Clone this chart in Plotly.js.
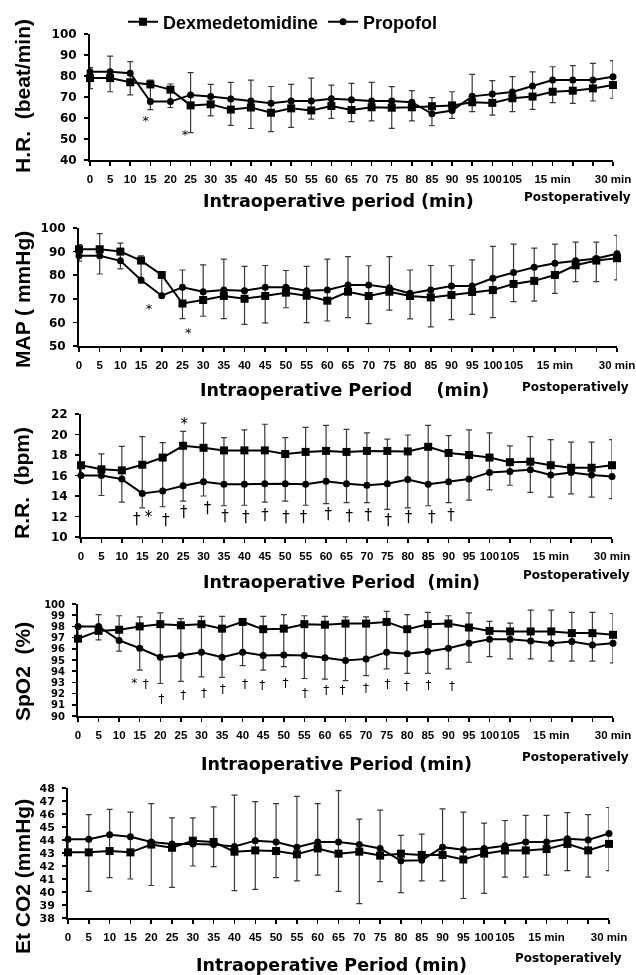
<!DOCTYPE html>
<html><head><meta charset="utf-8">
<script src="https://cdn.plot.ly/plotly-3.0.1.min.js"></script>
<style>html,body{margin:0;padding:0;background:#fff} #chart{filter:grayscale(1)}</style>
</head><body>
<div id="chart" style="width:636px;height:975px"></div>
<script>
// ---------- data ----------
const timeLabels = ["0","5","10","15","20","25","30","35","40","45","50","55","60","65","70","75","80","85","90","95","100","105","","15 min","","","30 min"];

const hrDex  = [79,79,77,76,73.5,66,66.5,64,65,62.5,64.6,63.6,65.7,63.8,65.1,64.9,65.1,65.6,66,67.5,67.2,69.4,70.2,72.5,73,74.1,75.7];
const hrProp = [82,82,81.3,67.8,67.8,71,70.2,69,68.1,67,68.1,68.1,69.2,68.7,68.1,68.1,67.5,62,63.6,70.3,71.4,72.4,75.2,78.1,78.1,78.1,79.7];
const hrHigh = [84,89.5,86.8,78,76.2,81.6,76,77,78,75,76,79,75.7,76.5,77,74.9,73,69.7,72.5,80.8,77.8,79.7,82,84.4,84.9,86,87.3];
const hrLow  = [74,72.5,71,64,65,53,61,56.5,55,53.5,55.5,59.5,59.8,58.3,58.6,55.1,58.6,56.3,59.8,63,61.4,63,64.1,67.3,67,68.1,69.4];
const hrMarkX = [2.77,4.72];
const hrMarkY = [58,51.5];
const hrMarkText = ["*","*"];

const mapDex  = [91,91,90,86.2,80.1,68,69.5,71.2,70,71.2,72.6,71.3,69.2,73,71.2,73,71.2,70.6,71.6,72.9,73.7,76.3,77.6,80.1,84.2,86.2,87.2];
const mapProp = [88.2,88.2,86.1,78,71.3,74.9,73,73.7,73.4,74.9,74.9,73.4,73.7,75.9,75.9,74.7,72.3,73.7,75.4,75.4,78.7,81.1,83.4,85.1,86.1,87.1,89.1];
const mapHigh = [93,97.6,93.6,88.2,80.1,82.2,84.4,86.8,83.7,84.1,82,83.7,86.8,87.9,84,87.9,82.2,84.1,84,86.5,92.2,93.2,91.5,93.2,94,94,96.9];
const mapLow  = [86,80.5,82.7,76.6,71.3,61.6,62.6,61.6,59.2,59.8,66.2,59.9,60.6,62,59.5,65.2,61.5,58.1,61.2,63.4,62,68.8,69,72.3,77.3,77.3,78];
const mapMarkX = [3.38,5.28];
const mapMarkY = [65.5,55.2];
const mapMarkText = ["*","*"];

const rrDex  = [17,16.6,16.5,17.05,17.75,18.9,18.7,18.45,18.45,18.45,18.1,18.3,18.4,18.3,18.4,18.4,18.35,18.8,18.2,18,17.75,17.3,17.35,17,16.75,16.75,17];
const rrProp = [16,16,15.65,14.25,14.5,15,15.4,15.15,15.15,15.2,15.2,15.15,15.45,15.2,15.05,15.2,15.6,15.15,15.4,15.65,16.3,16.4,16.55,16.05,16.3,16.05,15.9];
const rrHigh = [17,18.1,18.85,19.8,19.2,20.3,21.1,19.7,20.45,21,19.7,20.7,20.9,20.5,20.15,19.55,19.95,20.9,19.9,20.45,20.15,18.9,19.8,19.5,19.25,19.25,19.5];
const rrLow  = [16,14.05,13.4,12.85,12.95,13.5,14,13.05,13.1,13.4,13.5,13.1,13.25,13.35,13.35,12.7,12.85,13.05,13.35,13.6,14.6,15.05,14.35,13.9,14.2,13.9,13.75];
const rrMarkX = [5.06,2.73,3.3,4.15,5.03,6.19,7.05,8.07,9.01,10.04,10.89,12.11,13.14,14.07,15.05,16.03,17.17,18.12];
const rrMarkY = [20.9,11.6,11.8,11.5,12.3,12.7,11.9,11.8,12,11.8,11.8,12.1,11.95,12,11.5,11.8,11.8,12];
const rrMarkText = ["*","†","*","†","†","†","†","†","†","†","†","†","†","†","†","†","†","†"];

const spDex  = [96.9,97.6,97.7,98,98.2,98.1,98.2,97.8,98.4,97.75,97.8,98.2,98.15,98.25,98.25,98.4,97.75,98.2,98.25,97.9,97.6,97.55,97.55,97.55,97.4,97.4,97.25];
const spProp = [98,98,96.75,96.05,95.25,95.4,95.7,95.25,95.7,95.4,95.45,95.4,95.2,94.95,95.1,95.7,95.55,95.75,96.05,96.5,96.85,96.85,96.7,96.5,96.65,96.35,96.5];
const spHigh = [98,99.05,98.95,98.85,99.2,98.7,98.9,98.9,98.7,98.9,99.05,98.95,98.9,98.85,98.85,99.35,99.05,99.25,98.95,99.2,98.45,98.3,99.45,99.45,99.25,99.25,99.15];
const spLow  = [96.9,96.8,95.8,94.1,92.9,93.1,93.5,93.45,94.5,94.1,94.4,93.35,93.3,93.15,93.6,94.2,93.8,93.8,94.2,94.8,95.3,95.1,95.1,94.9,94.9,94.9,94.75];
const spMarkX = [2.73,3.29,4.06,5.11,6.12,7.03,8.11,8.95,10.09,11.03,12.07,12.85,14,15.04,15.98,17.03,18.17];
const spMarkY = [92.9,92.8,91.45,91.8,91.95,92.3,92.8,92.7,92.85,91.95,92.2,92.2,92.4,92.8,92.55,92.7,92.6];
const spMarkText = ["*","†","†","†","†","†","†","†","†","†","†","†","†","†","†","†","†"];

const coDex  = [43.05,43.05,43.15,43.05,43.65,43.4,43.95,43.85,43.1,43.2,43.15,42.9,43.35,42.95,43.1,42.8,42.95,42.85,42.85,42.5,42.95,43.2,43.2,43.3,43.7,43.2,43.7];
const coProp = [44.05,44.05,44.4,44.25,43.85,43.7,43.7,43.65,43.5,43.95,43.85,43.45,43.85,43.85,43.65,43.35,42.4,42.45,43.45,43.25,43.35,43.55,43.85,43.85,44.1,44,44.5];
const coHigh = [44.05,45.95,46.35,46.15,46.8,45.7,45.7,46.55,47.45,46.95,46.8,47.35,46.8,47.8,45.6,46.3,44.35,44.45,46.4,46.15,45.3,45.5,45.9,45.9,46.1,45.95,46.5];
const coLow  = [43.05,40.05,41.1,41,40.5,40.35,42,41.95,40.1,40.2,41.1,40.85,41.3,40.05,39.1,40.8,39.95,40.85,40.85,39.5,39.9,41.15,41.15,41.3,41.65,41.15,41.65];

const seriesNames = ["Dexmedetomidine","Propofol"];

// ---------- layout config ----------
const W = 636, H = 975;
const panels = [
  {dex:hrDex, prop:hrProp, hi:hrHigh, lo:hrLow, mx:hrMarkX, my:hrMarkY, mt:hrMarkText, range:[40,100], dtick:10, px:[90,613], py:[34,160], yfs:12, ytitle:"H.R.\u00a0\u00a0(beat/min)", ytc:96, xtitle:"Intraoperative period (min)", xtx:338, xty:201, ptx:577, pty:197, mfs:13},
  {dex:mapDex, prop:mapProp, hi:mapHigh, lo:mapLow, mx:mapMarkX, my:mapMarkY, mt:mapMarkText, range:[50,100], dtick:10, px:[79,617], py:[228,346], yfs:12, ytitle:"MAP ( mmHg)", ytc:300, xtitle:"Intraoperative Period\u00a0\u00a0\u00a0\u00a0(min)", xtx:344, xty:390, ptx:575, pty:387, mfs:13},
  {dex:rrDex, prop:rrProp, hi:rrHigh, lo:rrLow, mx:rrMarkX, my:rrMarkY, mt:rrMarkText, range:[10,22], dtick:2, px:[81,612], py:[414,537], yfs:12, ytitle:"R.R.\u00a0\u00a0(bpm)", ytc:483, xtitle:"Intraoperative Period\u00a0\u00a0(min)", xtx:341, xty:582, ptx:576, pty:575, mfs:15},
  {dex:spDex, prop:spProp, hi:spHigh, lo:spLow, mx:spMarkX, my:spMarkY, mt:spMarkText, range:[90,100], dtick:1, px:[78,613], py:[604,716], yfs:10, ytitle:"SpO2\u00a0\u00a0(%)", ytc:672, xtitle:"Intraoperative Period (min)", xtx:336, xty:764, ptx:575, pty:757, mfs:12},
  {dex:coDex, prop:coProp, hi:coHigh, lo:coLow, mx:[], my:[], mt:[], range:[38,48], dtick:1, px:[68,609], py:[788,918], yfs:11, ytitle:"Et CO2 (mmHg)", ytc:877, xtitle:"Intraoperative Period (min)", xtx:331, xty:965, ptx:568, pty:958, mfs:12}
];

const idx = timeLabels.map((_, i) => i);
const boldFont = (fam, size) => ({family: fam, size: size, color: "#000", weight: "bold"});
const ARIAL = "Liberation Sans, Arial, sans-serif";
const DEJAVU = "DejaVu Sans, sans-serif";

const traces = [];
const layout = {
  width: W, height: H,
  margin: {l:0, r:0, t:0, b:0},
  paper_bgcolor: "#fff", plot_bgcolor: "#fff",
  showlegend: true,
  legend: {orientation: "h", x: 283/W, xanchor: "center", y: 1 - 22/H, yanchor: "middle",
           font: boldFont(ARIAL, 18), bgcolor: "rgba(0,0,0,0)", itemwidth: 30, traceorder: "normal"},
  annotations: []
};

panels.forEach((p, i) => {
  const k = i + 1;
  const xa = "x" + k, ya = "y" + k;
  const top = p.hi.map((v, j) => Math.max(v, p.dex[j], p.prop[j]));
  const bot = p.lo.map((v, j) => Math.min(v, p.dex[j], p.prop[j]));
  traces.push({
    x: idx, y: p.dex, name: seriesNames[0], legendgroup: "d", showlegend: k === 1,
    xaxis: xa, yaxis: ya, type: "scatter", mode: "lines+markers", cliponaxis: false,
    line: {color: "#000", width: 2},
    marker: {symbol: "square", size: 8, color: "#000"},
    error_y: {type: "data", symmetric: false,
              array: top.map((v, j) => v - p.dex[j]),
              arrayminus: bot.map((v, j) => p.dex[j] - v),
              color: "#3a3a3a", thickness: 1.2, width: 3}
  });
  traces.push({
    x: idx, y: p.prop, name: seriesNames[1], legendgroup: "p", showlegend: k === 1,
    xaxis: xa, yaxis: ya, type: "scatter", mode: "lines+markers", cliponaxis: false,
    line: {color: "#000", width: 2},
    marker: {symbol: "circle", size: 7, color: "#000"}
  });
  if (p.mx.length) {
    traces.push({
      x: p.mx, y: p.my, text: p.mt, xaxis: xa, yaxis: ya, type: "scatter", mode: "text",
      showlegend: false, cliponaxis: false, hoverinfo: "skip",
      textfont: {family: DEJAVU, size: p.mfs, color: "#000"}
    });
  }
  const xdom = [p.px[0]/W, p.px[1]/W];
  const ydom = [1 - p.py[1]/H, 1 - p.py[0]/H];
  const common = {showgrid: false, zeroline: false, fixedrange: true};
  layout["xaxis" + k] = Object.assign({}, common, {
    domain: xdom, anchor: ya, range: [0, 26],
    tickmode: "array", tickvals: idx, ticktext: timeLabels,
    ticks: "outside", ticklen: 4, tickwidth: 1.5, tickcolor: "#000",
    showline: true, linewidth: 2, linecolor: "#000",
    tickfont: boldFont(ARIAL, 11.5), ticklabelstandoff: 3, tickangle: 0
  });
  layout["yaxis" + k] = Object.assign({}, common, {
    domain: ydom, anchor: xa, range: p.range, tick0: p.range[0], dtick: p.dtick,
    ticks: "outside", ticklen: 4, tickwidth: 1.5, tickcolor: "#000",
    showline: true, linewidth: 2, linecolor: "#000",
    tickfont: boldFont(DEJAVU, p.yfs), ticklabelstandoff: 5
  });
  // overlay axes for the inward half of the crossing ticks
  layout["xaxis" + (k + 5)] = Object.assign({}, common, {
    overlaying: xa, anchor: ya, range: [0, 26], tickmode: "array", tickvals: idx,
    ticks: "inside", ticklen: 4, tickwidth: 1.5, tickcolor: "#000",
    showticklabels: false, showline: false
  });
  layout["yaxis" + (k + 5)] = Object.assign({}, common, {
    overlaying: ya, anchor: xa, side: "left", range: p.range, tick0: p.range[0], dtick: p.dtick,
    ticks: "inside", ticklen: 4, tickwidth: 1.5, tickcolor: "#000",
    showticklabels: false, showline: false
  });
  layout.annotations.push({
    xref: "paper", yref: "paper", x: p.xtx/W, y: 1 - p.xty/H, xanchor: "center", yanchor: "middle",
    text: p.xtitle, showarrow: false, font: boldFont(DEJAVU, 17.5)
  });
  layout.annotations.push({
    xref: "paper", yref: "paper", x: p.ptx/W, y: 1 - p.pty/H, xanchor: "center", yanchor: "middle",
    text: "Postoperatively", showarrow: false, font: boldFont(DEJAVU, 12)
  });
  layout.annotations.push({
    xref: "paper", yref: "paper", x: 22/W, y: 1 - p.ytc/H, xanchor: "center", yanchor: "middle",
    text: p.ytitle, textangle: -90, showarrow: false, font: boldFont(ARIAL, 21)
  });
});

Plotly.newPlot("chart", traces, layout, {staticPlot: true, displayModeBar: false});
</script>
</body></html>
